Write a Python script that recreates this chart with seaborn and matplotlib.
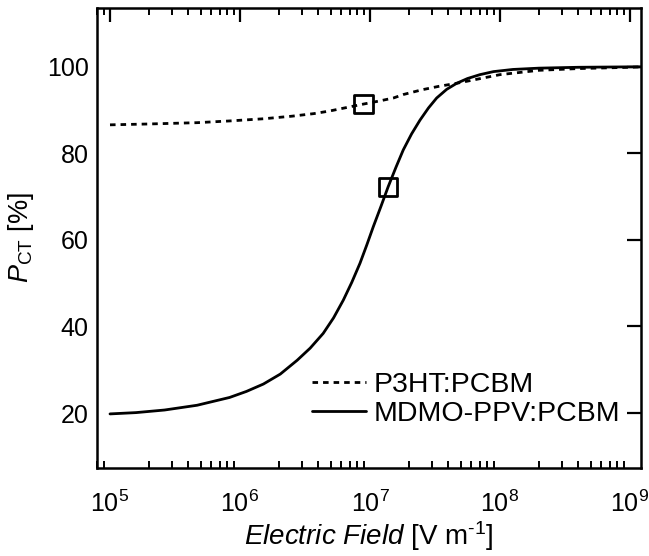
import numpy as np
import pandas as pd
import matplotlib
matplotlib.use("Agg")
import matplotlib.pyplot as plt
import seaborn as sns
from matplotlib.ticker import LogLocator, FixedLocator, NullLocator, NullFormatter

# ---- data (field given as log10 exponent) ----
logfield_p3ht = [5.0, 5.3, 5.67, 5.92, 6.18, 6.4, 6.57, 6.69, 6.82, 6.95, 7.07,
                 7.18, 7.256, 7.4, 7.53, 7.667, 7.8, 8.0, 8.3, 8.6, 9.0, 9.085]
pct_p3ht = [86.6, 86.8, 87.1, 87.5, 88.0, 88.6, 89.2, 89.8, 90.6, 91.4, 92.1,
            92.8, 93.6, 94.7, 95.5, 96.2, 97.0, 98.2, 99.2, 99.6, 99.9, 100.0]

logfield_mdmo = [5.0, 5.2, 5.42, 5.67, 5.92, 6.05, 6.18, 6.31, 6.44, 6.54, 6.64,
                 6.72, 6.795, 6.86, 6.923, 6.975, 7.026, 7.085, 7.14, 7.2, 7.256,
                 7.32, 7.385, 7.45, 7.513, 7.59, 7.667, 7.75, 7.846, 7.95, 8.1,
                 8.3, 8.6, 9.0, 9.085]
pct_mdmo = [19.8, 20.1, 20.7, 21.8, 23.6, 25.0, 26.7, 29.0, 32.2, 35.0, 38.4,
            42.0, 46.1, 50.2, 54.6, 58.8, 63.1, 67.8, 72.3, 76.8, 80.8,
            84.5, 87.7, 90.5, 92.8, 94.8, 96.2, 97.3, 98.2, 98.9, 99.4,
            99.7, 99.9, 100.0, 100.0]

marker_logfield = [6.95, 7.14]
marker_pct = [91.5, 72.3]

labels = ["P3HT:PCBM", "MDMO-PPV:PCBM"]
xticks = [1e5, 1e6, 1e7, 1e8, 1e9]
yticks = [20, 40, 60, 80, 100]

# ---- style ----
sns.set_theme(style="white")
plt.rcParams["font.family"] = ["Liberation Sans", "DejaVu Sans"]
plt.rcParams["mathtext.fontset"] = "custom"
plt.rcParams["mathtext.rm"] = "Liberation Sans"
plt.rcParams["mathtext.it"] = "Liberation Sans:italic"
plt.rcParams["mathtext.bf"] = "Liberation Sans:bold"
plt.rcParams["mathtext.default"] = "regular"
for k in ["text.color", "axes.labelcolor", "xtick.color", "ytick.color", "axes.edgecolor"]:
    plt.rcParams[k] = "black"

fig = plt.figure(figsize=(6.49, 5.56), dpi=100)
ax = fig.add_axes([97 / 649, 1 - 468 / 556, (641 - 97) / 649, (468 - 8) / 556])

df_p = pd.DataFrame({"field": [10 ** e for e in logfield_p3ht], "pct": pct_p3ht})
df_m = pd.DataFrame({"field": [10 ** e for e in logfield_mdmo], "pct": pct_mdmo})

sns.lineplot(data=df_p, x="field", y="pct", ax=ax, color="black", lw=2.0,
             label=labels[0], linestyle=(0, (2.0, 1.8)))
sns.lineplot(data=df_m, x="field", y="pct", ax=ax, color="black", lw=2.0,
             label=labels[1])
sns.scatterplot(x=[10 ** e for e in marker_logfield], y=marker_pct, ax=ax,
                marker="s", s=170, facecolor="none", edgecolor="black",
                linewidth=2.0, zorder=5)

ax.set_xscale("log")
ax.set_xlim(10 ** 4.9, 10 ** 9.085)
ax.set_ylim(7.3, 113.6)

ax.xaxis.set_major_locator(FixedLocator(xticks))
ax.xaxis.set_minor_locator(LogLocator(base=10, subs=np.arange(2, 10), numticks=20))
ax.xaxis.set_minor_formatter(NullFormatter())
ax.yaxis.set_major_locator(FixedLocator(yticks))
ax.yaxis.set_minor_locator(NullLocator())

for s in ax.spines.values():
    s.set_linewidth(1.8)
    s.set_color("black")

ax.tick_params(axis="both", which="major", direction="in", length=10, width=1.6,
               colors="black", labelsize=18, top=True, right=True)
ax.tick_params(axis="x", which="minor", direction="in", length=5, width=1.4,
               top=True, bottom=True, colors="black")
ax.tick_params(axis="x", which="major", pad=16)
ax.tick_params(axis="y", which="major", pad=6)

ax.set_xlabel(r"$\mathit{Electric\ Field}$ [V m$^{\text{-}1}$]", fontsize=20, labelpad=2)
ax.set_ylabel(r"$\mathit{P}_{\mathrm{CT}}$ [%]", fontsize=19.5, labelpad=8)

leg = ax.legend(loc="lower right", frameon=False, fontsize=20.5,
                handlelength=1.9, handletextpad=0.28, labelspacing=0.1,
                borderaxespad=0.0, borderpad=0.0, bbox_to_anchor=(0.962, 0.09))
for line in leg.get_lines():
    line.set_linewidth(2.0)

fig.savefig("out.png", dpi=100)
